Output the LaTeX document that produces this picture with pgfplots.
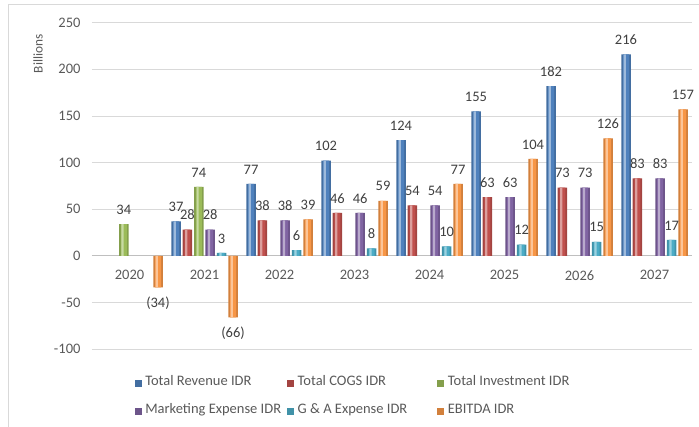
\documentclass[border=0pt]{standalone}
\usepackage{pgfplots}
\usepackage{pgfplotstable}
\pgfplotsset{compat=1.18}
\usepackage{fontspec}
\setmainfont{Carlito}

\definecolor{crev}{HTML}{4F81BD}
\definecolor{ccogs}{HTML}{C0504D}
\definecolor{cinv}{HTML}{9BBB59}
\definecolor{cmkt}{HTML}{8064A2}
\definecolor{cga}{HTML}{4BACC6}
\definecolor{cebit}{HTML}{F79646}
\definecolor{gridgray}{HTML}{D9D9D9}
\definecolor{axisgray}{HTML}{BFBFBF}
\definecolor{tickgray}{HTML}{595959}
\definecolor{labgray}{HTML}{404040}

% x = year index (0 = 2020), lab = data label
\pgfplotstableread{
x y lab
1 37 37
2 77 77
3 102 102
4 124 124
5 155 155
6 182 182
7 216 216
}\revenue
\pgfplotstableread{
x y lab
1 28 28
2 38 38
3 46 46
4 54 54
5 63 63
6 73 73
7 83 83
}\cogs
\pgfplotstableread{
x y lab
0 34 34
1 74 74
}\invest
\pgfplotstableread{
x y lab
1 28 28
2 38 38
3 46 46
4 54 54
5 63 63
6 73 73
7 83 83
}\marketing
\pgfplotstableread{
x y lab
1 3 3
2 6 6
3 8 8
4 10 10
5 12 12
6 15 15
7 17 17
}\gaexp
\pgfplotstableread{
x y lab
0 -34 (34)
1 -66 (66)
2 39 39
3 59 59
4 77 77
5 104 104
6 126 126
7 157 157
}\ebitda

% one series: dark full bar, brighter core, light highlight stripe
% #1 table, #2 colour, #3 shift of bar, #4 shift of highlight
\newcommand{\cylbar}[4]{%
  \addplot[fill=#2!85!black, draw=none, bar shift=#3,
    point meta=explicit symbolic, nodes near coords={\pgfplotspointmeta}]
    table[x=x, y=y, meta=lab] {#1};
  \addplot[fill=#2, draw=none, bar shift=#3, bar width=6pt, forget plot]
    table[x=x, y=y] {#1};
  \addplot[fill=#2!55!white, draw=none, bar shift=#4, bar width=2.2pt, forget plot]
    table[x=x, y=y] {#1};
}

\begin{document}
\begin{tikzpicture}
\begin{axis}[
  scale only axis, width=600pt, height=326.3pt,
  ybar, bar width=9.5pt,
  xmin=-0.5, xmax=7.5, ymin=-100, ymax=250,
  axis x line=middle, axis y line=left,
  x axis line style={draw=axisgray, line width=0.8pt, -},
  y axis line style={draw=none},
  xtick={0,1,2,3,4,5,6,7},
  xticklabels={2020,2021,2022,2023,2024,2025,2026,2027},
  ytick={-100,-50,0,50,100,150,200,250},
  major tick length=0pt,
  ymajorgrids, grid style={gridgray, line width=0.8pt},
  font=\fontsize{14.5}{17}\selectfont,
  ticklabel style={text=tickgray, font=\fontsize{14.5}{17}\selectfont},
  /pgf/number format/assume math mode=true,
  xticklabel style={yshift=-11pt},
  yticklabel style={xshift=-8pt},
  ylabel={Billions},
  every axis y label/.style={at={([xshift=-54pt]rel axis cs:0,0.905)}, rotate=90,
    anchor=center, font=\fontsize{13.3}{16}\selectfont, text=tickgray},
  visualization depends on={rawy \as \rawy},
  every node near coord/.append style={text=labgray, inner sep=9.5pt,
    font=\fontsize{14.5}{17}\selectfont},
  every node near coord/.append code={%
    \ifdim\rawy pt<0pt \pgfkeysalso{anchor=north}\else\pgfkeysalso{anchor=south}\fi},
  every axis plot post/.append style={
    legend image code/.code={\path[##1] (0pt,-3.5pt) rectangle (7pt,3.5pt);}},
  legend columns=3,
  legend cell align=left,
  legend style={draw=none, fill=none, at={(0.071,-0.084)}, anchor=north west,
    inner sep=0pt, row sep=15pt, text=tickgray,
    font=\fontsize{14.5}{17}\selectfont,
    nodes={inner sep=2pt, text height=0.7em, text depth=0.2em},
    /tikz/column 1/.style={column sep=1.5pt},
    /tikz/column 2/.style={column sep=4pt},
    /tikz/column 3/.style={column sep=1.5pt},
    /tikz/column 4/.style={column sep=28pt},
    /tikz/column 5/.style={column sep=1.5pt}},
]
\cylbar{\revenue}{crev}{-28.5pt}{-29.7pt}
\addlegendentry{Total Revenue IDR}
\cylbar{\cogs}{ccogs}{-17.1pt}{-18.3pt}
\addlegendentry{Total COGS IDR}
\cylbar{\invest}{cinv}{-5.7pt}{-6.9pt}
\addlegendentry{Total Investment IDR}
\cylbar{\marketing}{cmkt}{5.7pt}{4.5pt}
\addlegendentry{Marketing Expense IDR}
\cylbar{\gaexp}{cga}{17.1pt}{15.9pt}
\addlegendentry{G \& A Expense IDR}
\cylbar{\ebitda}{cebit}{28.5pt}{27.3pt}
\addlegendentry{EBITDA IDR}
\end{axis}
\draw[gridgray, line width=0.8pt] (-84pt,-78pt) -- (-84pt,345pt) -- (607pt,345pt);
\pgfresetboundingbox
\path (-92pt,-78pt) rectangle (607pt,349pt);
\end{tikzpicture}
\end{document}
